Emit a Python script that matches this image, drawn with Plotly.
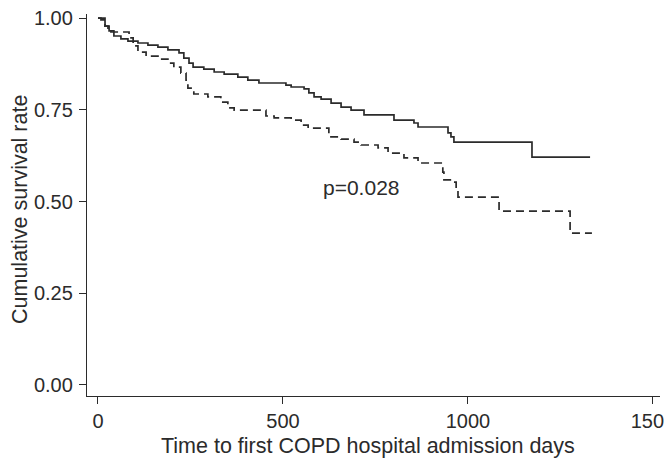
import plotly.graph_objects as go

# Group 1 (solid line) Kaplan-Meier steps
t_solid = [0, 8, 19, 30, 43, 62, 81, 108, 135, 162, 189, 219, 232, 246, 257, 286, 314,
           341, 378, 405, 435, 508, 522, 557, 570, 584, 603, 630, 657, 684, 719, 800,
           854, 865, 946, 954, 962, 1173, 1330]
s_solid = [1.0, 0.995, 0.978, 0.965, 0.951, 0.943, 0.937, 0.932, 0.926, 0.921, 0.913,
           0.905, 0.891, 0.877, 0.866, 0.861, 0.853, 0.847, 0.839, 0.831, 0.823, 0.817,
           0.812, 0.807, 0.796, 0.785, 0.779, 0.768, 0.757, 0.749, 0.736, 0.722, 0.714,
           0.703, 0.687, 0.676, 0.662, 0.621, 0.621]

# Group 2 (dashed line)
t_dash = [0, 19, 27, 35, 84, 95, 108, 130, 170, 189, 205, 224, 238, 243, 259, 297, 332,
          351, 368, 454, 476, 522, 549, 568, 624, 657, 692, 711, 757, 784, 827, 865, 932,
          935, 962, 968, 973, 1084, 1276, 1335]
s_dash = [1.0, 0.978, 0.967, 0.962, 0.946, 0.924, 0.907, 0.896, 0.888, 0.877, 0.866,
          0.850, 0.831, 0.809, 0.793, 0.785, 0.771, 0.755, 0.749, 0.733, 0.728, 0.722,
          0.708, 0.700, 0.676, 0.670, 0.662, 0.654, 0.646, 0.632, 0.619, 0.605, 0.580,
          0.559, 0.553, 0.531, 0.512, 0.474, 0.414, 0.414]

x_ticks = [0, 500, 1000, 1500]
y_ticks = [0, 0.25, 0.5, 0.75, 1.0]
y_labels = ["0.00", "0.25", "0.50", "0.75", "1.00"]

x_title = "Time to first COPD hospital admission days"
y_title = "Cumulative survival rate"
p_text = "p=0.028"
p_pos = (711, 0.537)

line_col = "#2b2b2b"
font_fam = "Liberation Sans, Arial, sans-serif"

fig = go.Figure()
fig.add_trace(go.Scatter(x=t_solid, y=s_solid, mode="lines", line_shape="hv",
                         line=dict(color=line_col, width=1.7), showlegend=False,
                         hoverinfo="skip"))
fig.add_trace(go.Scatter(x=t_dash, y=s_dash, mode="lines", line_shape="hv",
                         line=dict(color=line_col, width=1.7, dash="8px,5px"),
                         showlegend=False, hoverinfo="skip"))

fig.add_annotation(x=p_pos[0], y=p_pos[1], text=p_text, showarrow=False,
                   font=dict(size=21, color=line_col, family=font_fam))

# axis titles as paper-anchored annotations
fig.add_annotation(x=0.5, y=0, xref="paper", yref="paper", xanchor="center",
                   yanchor="top", xshift=-6, yshift=-36, text=x_title, showarrow=False,
                   font=dict(size=21.5, color=line_col, family=font_fam))
fig.add_annotation(x=0, y=0.5, xref="paper", yref="paper", xanchor="center",
                   yanchor="middle", xshift=-67, yshift=-5, text=y_title, textangle=-90,
                   showarrow=False,
                   font=dict(size=21.5, color=line_col, family=font_fam))

fig.update_layout(
    width=664, height=458,
    margin=dict(l=87, r=4, t=14, b=62, autoexpand=False),
    paper_bgcolor="white", plot_bgcolor="white",
    font=dict(family=font_fam, size=20, color=line_col),
)
fig.update_xaxes(range=[-29.7, 1519], tickvals=x_ticks, ticks="outside", ticklen=7,
                 tickcolor=line_col, showline=True, linecolor=line_col, linewidth=1.3,
                 showgrid=False, zeroline=False, automargin=False,
                 tickfont=dict(size=20), ticklabeloverflow="allow")
fig.update_yaxes(range=[-0.030, 1.011], tickvals=y_ticks, ticktext=y_labels,
                 ticks="outside", ticklen=7, tickcolor=line_col, showline=True,
                 linecolor=line_col, linewidth=1.3, showgrid=False, zeroline=False,
                 automargin=False, tickfont=dict(size=20), ticklabelstandoff=2)

fig.write_html("out.html", config={"displayModeBar": False},
               post_script="document.body.style.margin='0';document.body.style.padding='0';")
